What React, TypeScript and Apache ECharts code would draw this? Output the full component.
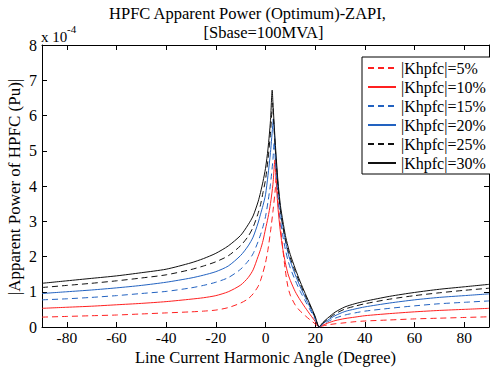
import React, { useEffect, useRef } from "react";
import * as echarts from "echarts";

// Shared angle grid (degrees)
const angles = [-90, -80, -70, -60, -50, -40, -30, -25, -20, -15, -10, -7, -5, -3, -2, -1, 0, 1, 2, 3, 4, 5, 6, 7, 8, 9, 10, 12, 14, 16, 18, 20, 21.6, 23, 25, 28, 32, 36, 40, 50, 60, 70, 80, 90];

// Apparent power (x 1e-4 pu) for each |Khpfc|
const k5 = [0.28, 0.3, 0.32, 0.34, 0.37, 0.4, 0.43, 0.45, 0.48, 0.55, 0.68, 0.8, 0.94, 1.15, 1.32, 1.55, 1.82, 2.2, 2.7, 3.28, 3.95, 3.6, 2.85, 2.2, 1.6, 1.15, 0.9, 0.62, 0.45, 0.32, 0.2, 0.09, 0, 0.03, 0.06, 0.09, 0.12, 0.15, 0.17, 0.2, 0.23, 0.25, 0.27, 0.29];
const k10 = [0.53, 0.56, 0.59, 0.63, 0.67, 0.72, 0.79, 0.83, 0.89, 1.0, 1.19, 1.4, 1.62, 2.0, 2.2, 2.45, 2.78, 3.1, 3.5, 4.05, 4.5, 3.4, 2.7, 2.2, 1.82, 1.52, 1.32, 1.0, 0.76, 0.55, 0.35, 0.16, 0, 0.05, 0.11, 0.18, 0.24, 0.28, 0.32, 0.38, 0.43, 0.47, 0.5, 0.53];
const k15 = [0.77, 0.8, 0.84, 0.89, 0.95, 1.01, 1.11, 1.18, 1.27, 1.4, 1.64, 1.87, 2.08, 2.42, 2.62, 2.85, 3.13, 3.55, 4.05, 4.75, 4.7, 3.75, 3.05, 2.58, 2.2, 1.9, 1.67, 1.32, 1.01, 0.74, 0.48, 0.22, 0, 0.07, 0.15, 0.25, 0.34, 0.4, 0.45, 0.53, 0.6, 0.66, 0.7, 0.74];
const k20 = [0.95, 1.0, 1.05, 1.11, 1.18, 1.27, 1.39, 1.47, 1.57, 1.73, 2.03, 2.3, 2.55, 2.95, 3.2, 3.45, 3.75, 4.3, 4.95, 5.8, 5.0, 4.05, 3.35, 2.85, 2.45, 2.12, 1.87, 1.48, 1.14, 0.84, 0.55, 0.25, 0, 0.09, 0.19, 0.32, 0.44, 0.51, 0.57, 0.68, 0.77, 0.84, 0.89, 0.94];
const k25 = [1.12, 1.18, 1.24, 1.31, 1.39, 1.48, 1.63, 1.73, 1.85, 2.02, 2.31, 2.57, 2.83, 3.22, 3.47, 3.82, 4.18, 4.75, 5.5, 6.2, 5.0, 4.0, 3.3, 2.85, 2.48, 2.2, 1.96, 1.57, 1.22, 0.9, 0.6, 0.28, 0, 0.1, 0.22, 0.37, 0.51, 0.59, 0.66, 0.79, 0.89, 0.97, 1.04, 1.1];
const k30 = [1.24, 1.31, 1.38, 1.45, 1.54, 1.64, 1.82, 1.94, 2.09, 2.3, 2.6, 2.9, 3.15, 3.55, 3.82, 4.13, 4.5, 5.05, 5.85, 6.35, 5.15, 4.15, 3.45, 3.0, 2.6, 2.3, 2.05, 1.65, 1.28, 0.95, 0.63, 0.3, 0, 0.12, 0.25, 0.42, 0.57, 0.66, 0.73, 0.87, 0.98, 1.07, 1.14, 1.21];

// Resonance peak of each curve (angle, value)
const peakAngles = [4.3, 3.8, 3.5, 3.1, 2.9, 2.7];
const peakValues = [4.25, 4.74, 5.26, 5.9, 6.35, 6.72];

const seriesNames = ["|Khpfc|=5%", "|Khpfc|=10%", "|Khpfc|=15%", "|Khpfc|=20%", "|Khpfc|=25%", "|Khpfc|=30%"];
const seriesValues = [k5, k10, k15, k20, k25, k30];
const seriesColors = ["#ff2020", "#ff2020", "#2262c0", "#2262c0", "#111111", "#111111"];
const seriesDashed = [true, false, true, false, true, false];

const xTicks = [-80, -60, -40, -20, 0, 20, 40, 60, 80];

const FONT = "'Liberation Serif', 'DejaVu Serif', serif";

function buildData(i: number) {
  const pts: number[][] = angles.map((a, j) => [a, seriesValues[i][j]]);
  pts.push([peakAngles[i], peakValues[i]]);
  pts.sort((p, q) => p[0] - q[0]);
  return pts;
}

export default function App() {
  const ref = useRef<HTMLDivElement>(null);
  useEffect(() => {
    document.body.style.margin = "0";
    const chart = echarts.init(ref.current!, undefined, { renderer: "svg" });
    const axisLine = { show: true, onZero: false, lineStyle: { color: "#000", width: 1 } };
    const tickStyle = { color: "#000", width: 1 };
    const option: any = {
      animation: false,
      backgroundColor: "#fff",
      grid: { left: 42, right: 1, top: 45, bottom: 52, containLabel: false },
      xAxis: [
        {
          type: "value", min: -90, max: 90, position: "bottom",
          axisLine,
          axisTick: { show: true, inside: true, length: 5, customValues: xTicks, lineStyle: tickStyle },
          axisLabel: { customValues: xTicks, color: "#000", fontFamily: FONT, fontSize: 15.5, lineHeight: 13, margin: 4 },
          splitLine: { show: false },
        },
        {
          type: "value", min: -90, max: 90, position: "top",
          axisLine,
          axisTick: { show: true, inside: true, length: 5, customValues: xTicks, lineStyle: tickStyle },
          axisLabel: { show: false },
          splitLine: { show: false },
        },
      ],
      yAxis: [
        {
          type: "value", min: 0, max: 8, interval: 1, position: "left",
          axisLine,
          axisTick: { show: true, inside: true, length: 5, lineStyle: tickStyle },
          axisLabel: { color: "#000", fontFamily: FONT, fontSize: 16, margin: 5 },
          splitLine: { show: false },
        },
        {
          type: "value", min: 0, max: 8, interval: 1, position: "right",
          axisLine,
          axisTick: { show: true, inside: true, length: 5, lineStyle: tickStyle },
          axisLabel: { show: false },
          splitLine: { show: false },
        },
      ],
      legend: {
        orient: "vertical",
        left: 362,
        top: 57,
        padding: [3, 13, 3, 5],
        itemGap: 3,
        itemWidth: 28,
        itemHeight: 14,
        backgroundColor: "#fff",
        borderColor: "#000",
        borderWidth: 1,
        borderRadius: 0,
        itemStyle: { opacity: 0 },
        textStyle: { color: "#000", fontFamily: FONT, fontSize: 16, lineHeight: 14 },
        data: seriesNames,
      },
      series: seriesNames.map((name, i) => ({
        name,
        type: "line",
        xAxisIndex: 0,
        yAxisIndex: 0,
        symbol: "none",
        smooth: 0.25,
        color: seriesColors[i],
        itemStyle: { color: seriesColors[i] },
        lineStyle: { color: seriesColors[i], width: 1, type: seriesDashed[i] ? [6, 4] : "solid" },
        data: buildData(i),
        z: 2 + i,
      })),
      graphic: [
        { type: "text", x: 247.5, y: 13, style: { text: "HPFC Apparent Power (Optimum)-ZAPI,", align: "center", verticalAlign: "middle", fontFamily: FONT, fontSize: 16.5, fill: "#000" } },
        { type: "text", x: 263.5, y: 32, style: { text: "[Sbase=100MVA]", align: "center", verticalAlign: "middle", fontFamily: FONT, fontSize: 16.5, fill: "#000" } },
        { type: "text", x: 41, y: 37, style: { text: "x 10", align: "left", verticalAlign: "middle", fontFamily: FONT, fontSize: 15, lineHeight: 12, fill: "#000" } },
        { type: "text", x: 67, y: 29, style: { text: "-4", align: "left", verticalAlign: "middle", fontFamily: FONT, fontSize: 11, lineHeight: 9, fill: "#000" } },
        { type: "text", x: 14, y: 187, rotation: Math.PI / 2, style: { text: "|Apparent Power of HPFC (Pu)|", align: "center", verticalAlign: "middle", fontFamily: FONT, fontSize: 17, fill: "#000" } },
        { type: "text", x: 265.5, y: 357, style: { text: "Line Current Harmonic Angle (Degree)", align: "center", verticalAlign: "middle", fontFamily: FONT, fontSize: 16.5, lineHeight: 13, fill: "#000" } },
      ],
    };
    chart.setOption(option);
    return () => chart.dispose();
  }, []);
  return <div ref={ref} style={{ width: 490, height: 379 }} />;
}
